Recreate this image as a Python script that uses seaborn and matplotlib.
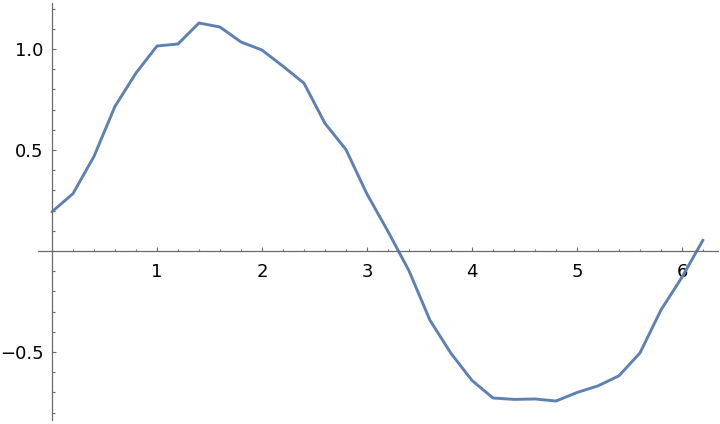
import numpy as np
import pandas as pd
import matplotlib.pyplot as plt
import seaborn as sns
from matplotlib.ticker import MultipleLocator, FixedLocator

# values
x_vals = [0.0, 0.2, 0.4, 0.6, 0.8, 1.0, 1.2, 1.4, 1.6, 1.8, 2.0, 2.2, 2.4, 2.6, 2.8, 3.0,
          3.2, 3.4, 3.6, 3.8, 4.0, 4.2, 4.4, 4.6, 4.8, 5.0, 5.2, 5.4, 5.6, 5.8, 6.0, 6.2]
y_vals = [0.194, 0.284, 0.468, 0.716, 0.881, 1.015, 1.025, 1.129, 1.109, 1.035, 0.995, 0.915,
          0.831, 0.632, 0.502, 0.282, 0.097, -0.098, -0.343, -0.507, -0.641, -0.728, -0.735,
          -0.733, -0.743, -0.701, -0.668, -0.618, -0.505, -0.292, -0.130, 0.054]
x_ticks = [1, 2, 3, 4, 5, 6]
y_ticks = [-0.5, 0.5, 1.0]

df = pd.DataFrame({"x": x_vals, "y": y_vals})

sns.set_style("ticks")
plt.rcParams['font.family'] = ['DejaVu Sans']

fig = plt.figure(figsize=(7.2, 4.24), dpi=100)
ax = fig.add_axes([38 / 720, 4 / 424, 680 / 720, 417 / 424])
sns.lineplot(data=df, x="x", y="y", ax=ax, color="#5E81B5", linewidth=2.1)

ax.set_xlim(-0.133, 6.343)
ax.set_ylim(-0.837, 1.228)

for s in ["top", "right"]:
    ax.spines[s].set_visible(False)
ax.spines["left"].set_position(("data", 0))
ax.spines["bottom"].set_position(("data", 0))
for s in ["left", "bottom"]:
    ax.spines[s].set_color("#6b6b6b")
    ax.spines[s].set_linewidth(0.9)

ax.xaxis.set_major_locator(FixedLocator(x_ticks))
ax.xaxis.set_minor_locator(MultipleLocator(0.2))
ax.yaxis.set_major_locator(FixedLocator(y_ticks))
ax.yaxis.set_minor_locator(MultipleLocator(0.1))
ax.set_yticklabels(["\u22120.5", "0.5", "1.0"])

ax.tick_params(which="both", direction="in", color="#6b6b6b", width=0.8,
               labelsize=13, labelcolor="black", bottom=True, left=True)
ax.tick_params(which="major", length=3.0)
ax.tick_params(which="minor", length=1.8)
ax.tick_params(axis="x", which="major", pad=9)
ax.tick_params(axis="y", which="major", pad=6)

ax.set_xlabel("")
ax.set_ylabel("")

plt.savefig("out.png", dpi=100)
